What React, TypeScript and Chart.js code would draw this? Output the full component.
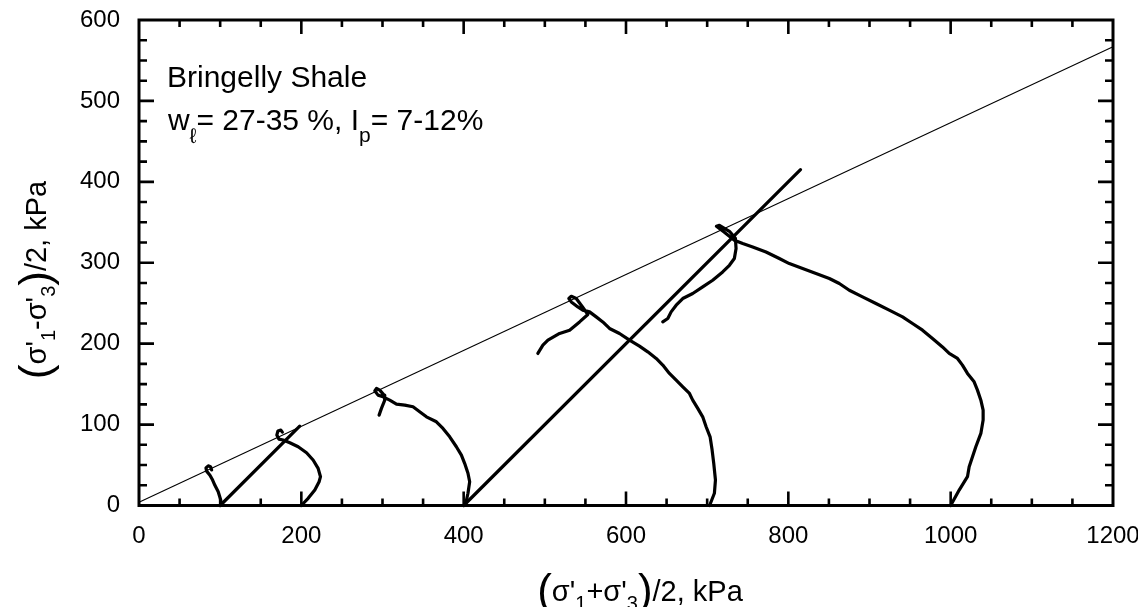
import React, { useEffect, useRef } from "react";
import { Chart, registerables } from "chart.js";

Chart.register(...registerables);

const FONT = "'Liberation Sans', Arial, 'DejaVu Sans', sans-serif";

// Axis ranges and labelled ticks
const xTickValues = [0, 200, 400, 600, 800, 1000, 1200];
const yTickValues = [0, 100, 200, 300, 400, 500, 600];
const X_MINOR = 50;
const Y_MINOR = 25;

// Failure envelope (thin line)
const envelopeP = [0, 1200];
const envelopeQ = [4, 567];

// Total stress paths (45 degree lines)
const totalLowP = [100, 198];
const totalLowQ = [0, 98];
const totalHighP = [400, 815];
const totalHighQ = [0, 415];

// Effective stress paths, p' = (s'1+s'3)/2, q = (s'1-s'3)/2
const path100P = [102, 100.6, 97.6, 93.5, 90.7, 87.4, 83.3, 82.5, 85.3, 88.2, 89.5];
const path100Q = [0, 7, 17, 25, 31.5, 37.5, 42.5, 46.5, 49, 48, 44];

const path200P = [200, 208.4, 216.6, 221.9, 223.6, 220.7, 214.5, 206.4, 196.1, 185.8, 177.6, 172.3, 169.8, 171.1, 174.8, 176.6];
const path200Q = [0, 8.9, 19.1, 29.4, 35.6, 45.9, 56.2, 65.2, 72.6, 77.5, 80.9, 82.1, 87, 92, 93.2, 90.7];

const path400P = [402, 405.3, 407.4, 405.3, 401.2, 397.2, 391, 382.8, 374.5, 366.4, 354.1, 345.8, 337.6, 327.4, 317.2, 308.9, 300.7, 294.5, 290.5, 292.6, 296.6, 301.9, 302.8, 298.7, 295.8];
const path400Q = [0, 15.1, 29.4, 39.8, 52.1, 62.3, 72.6, 84.9, 95.3, 103.5, 109.6, 115.8, 122, 124.1, 125.3, 130.2, 134.3, 136.4, 141.7, 144.7, 142.6, 136.4, 130.2, 120, 111.7];

const path700P = [703, 708.9, 710.2, 708.1, 706.1, 703.6, 698.7, 694.5, 688.4, 682.2, 678.2, 670, 661.8, 653.5, 645.3, 637.2, 626.8, 616.6, 604.3, 592, 579.7, 571.4, 563.3, 555.1, 546.8, 540.7, 532.6, 529.6, 532.6, 538.7, 546, 553, 542.8, 530.5, 518.2, 503.8, 497.6, 491.4];
const path700Q = [0, 15.1, 31.5, 52.1, 68.5, 84.9, 97.3, 109.6, 120, 130.2, 138.5, 146.7, 154.9, 163.2, 173.5, 181.7, 189.9, 196.9, 204.3, 212.6, 218.8, 226.9, 233.1, 239.3, 241.4, 245.4, 251.6, 255.8, 258.6, 255.8, 246, 236, 226.9, 216.7, 212.6, 204.3, 198.1, 187.9];

const path1000P = [1000, 1010.5, 1020.7, 1022.8, 1031, 1037.2, 1040, 1040, 1037.2, 1033, 1028.9, 1020.7, 1014.5, 1008.4, 998.2, 989.9, 977.6, 965.3, 953, 940.7, 924.3, 907.9, 891.4, 875.1, 862.8, 850.5, 834.1, 817.6, 801.2, 788.9, 772.5, 756.1, 743.8, 733.5, 721.2, 711.4, 715.1, 727.4, 734.8, 735.6, 733.5, 727.4, 719.1, 706.8, 694.5, 682.2, 669.9, 661.8, 655.6, 651.5, 645.3];
const path1000Q = [0, 19.1, 35.6, 47.9, 72.6, 89.1, 105.6, 117.9, 130.2, 142.6, 152.8, 163.2, 173.5, 181.7, 187.9, 196, 206.4, 216.7, 224.9, 233.1, 241.4, 249.6, 257.8, 266, 274.3, 280.5, 286.7, 292.8, 299, 305.2, 313.3, 319.5, 323.7, 327.8, 337.7, 345.1, 346.3, 338.9, 330.2, 317.5, 305.2, 296.9, 288.6, 278.4, 270.1, 262, 255.8, 247.5, 239.3, 231.1, 226.9];

const toPoints = (p: number[], q: number[]) => p.map((v, i) => ({ x: v, y: q[i] }));

const thickLine = (p: number[], q: number[]) => ({
  data: toPoints(p, q),
  showLine: true,
  borderColor: "#000",
  backgroundColor: "#000",
  borderWidth: 3.2,
  pointRadius: 0,
  borderCapStyle: "round" as const,
  borderJoinStyle: "round" as const,
  tension: 0,
  clip: false as const,
});

type Run = { t: string; size: number; dy: number };

function runsWidth(ctx: CanvasRenderingContext2D, runs: Run[]) {
  let w = 0;
  for (const r of runs) {
    ctx.font = `${r.size}px ${FONT}`;
    w += ctx.measureText(r.t).width;
  }
  return w;
}

function drawRuns(ctx: CanvasRenderingContext2D, runs: Run[], x: number, y: number) {
  let cx = x;
  ctx.textBaseline = "alphabetic";
  ctx.textAlign = "left";
  for (const r of runs) {
    ctx.font = `${r.size}px ${FONT}`;
    ctx.fillText(r.t, cx, y + r.dy);
    cx += ctx.measureText(r.t).width;
  }
}

const xTitle: Run[] = [
  { t: "(", size: 44, dy: 4 },
  { t: "σ'", size: 29, dy: 0 },
  { t: "1", size: 20, dy: 9 },
  { t: "+σ'", size: 29, dy: 0 },
  { t: "3", size: 20, dy: 9 },
  { t: ")", size: 44, dy: 4 },
  { t: "/2, kPa", size: 29, dy: 0 },
];

const yTitle: Run[] = [
  { t: "(", size: 44, dy: 4 },
  { t: "σ'", size: 29, dy: 0 },
  { t: "1", size: 20, dy: 9 },
  { t: "-σ'", size: 29, dy: 0 },
  { t: "3", size: 20, dy: 9 },
  { t: ")", size: 44, dy: 4 },
  { t: "/2, kPa", size: 29, dy: 0 },
];

const noteLine2: Run[] = [
  { t: "w", size: 30, dy: 0 },
  { t: "ℓ", size: 21, dy: 13 },
  { t: "= 27-35 %, I", size: 30, dy: 0 },
  { t: "p", size: 21, dy: 12 },
  { t: "= 7-12%", size: 30, dy: 0 },
];

const framePlugin = {
  id: "frameAndText",
  afterDraw(chart: any) {
    const { ctx, chartArea: a, scales } = chart;
    const x = scales.x;
    const y = scales.y;
    ctx.save();
    ctx.strokeStyle = "#000";
    ctx.fillStyle = "#000";
    ctx.lineWidth = 3;
    ctx.strokeRect(a.left, a.top, a.right - a.left, a.bottom - a.top);

    ctx.lineWidth = 2.6;
    ctx.beginPath();
    for (let v = x.min + X_MINOR; v < x.max; v += X_MINOR) {
      const px = x.getPixelForValue(v);
      const len = xTickValues.includes(v) ? 14 : 7;
      ctx.moveTo(px, a.bottom);
      ctx.lineTo(px, a.bottom - len);
      ctx.moveTo(px, a.top);
      ctx.lineTo(px, a.top + len);
    }
    for (let v = y.min + Y_MINOR; v < y.max; v += Y_MINOR) {
      const py = y.getPixelForValue(v);
      const len = yTickValues.includes(v) ? 15 : 8;
      ctx.moveTo(a.left, py);
      ctx.lineTo(a.left + len, py);
      ctx.moveTo(a.right, py);
      ctx.lineTo(a.right - len, py);
    }
    ctx.stroke();

    // annotation
    ctx.font = `30px ${FONT}`;
    ctx.textBaseline = "alphabetic";
    ctx.fillText("Bringelly Shale", 159, 79);
    drawRuns(ctx, noteLine2, 160, 122);

    // x axis title
    const xw = runsWidth(ctx, xTitle);
    drawRuns(ctx, xTitle, 632 - xw / 2, 593);

    // y axis title
    const yw = runsWidth(ctx, yTitle);
    ctx.translate(38, 272);
    ctx.rotate(-Math.PI / 2);
    drawRuns(ctx, yTitle, -yw / 2, 0);
    ctx.restore();
  },
};

export default function App() {
  const ref = useRef<HTMLCanvasElement>(null);

  useEffect(() => {
    const canvas = ref.current;
    if (!canvas) return;
    const chart = new Chart(canvas, {
      type: "scatter",
      data: {
        datasets: [
          {
            data: toPoints(envelopeP, envelopeQ),
            showLine: true,
            borderColor: "#000",
            borderWidth: 1.1,
            pointRadius: 0,
            clip: false,
          } as any,
          thickLine(totalLowP, totalLowQ),
          thickLine(totalHighP, totalHighQ),
          thickLine(path100P, path100Q),
          thickLine(path200P, path200Q),
          thickLine(path400P, path400Q),
          thickLine(path700P, path700Q),
          thickLine(path1000P, path1000Q),
        ],
      },
      options: {
        responsive: false,
        animation: false,
        devicePixelRatio: 1,
        layout: { padding: { top: 12, right: 25, left: 0, bottom: 0 } },
        plugins: { legend: { display: false }, tooltip: { enabled: false } },
        scales: {
          x: {
            type: "linear",
            min: 0,
            max: 1200,
            grid: { display: false, drawTicks: false },
            border: { display: false },
            afterBuildTicks: (s: any) => {
              s.ticks = xTickValues.map((v) => ({ value: v }));
            },
            afterFit: (s: any) => {
              s.height = 101.5;
              s.paddingLeft = 0;
              s.paddingRight = 0;
            },
            ticks: {
              color: "#000",
              padding: 19,
              maxRotation: 0,
              autoSkip: false,
              font: { family: FONT, size: 24, lineHeight: 1 },
              callback: (v: any) => String(v),
            },
          },
          y: {
            type: "linear",
            min: 0,
            max: 600,
            grid: { display: false, drawTicks: false },
            border: { display: false },
            afterBuildTicks: (s: any) => {
              s.ticks = yTickValues.map((v) => ({ value: v }));
            },
            afterFit: (s: any) => {
              s.width = 131;
              s.paddingTop = 0;
              s.paddingBottom = 0;
            },
            ticks: {
              color: "#000",
              padding: 19,
              autoSkip: false,
              font: { family: FONT, size: 24, lineHeight: 1 },
              callback: (v: any) => String(v),
            },
          },
        },
      },
      plugins: [framePlugin],
    });
    return () => chart.destroy();
  }, []);

  return (
    <div style={{ width: 1130, height: 599 }}>
      <canvas ref={ref} width={1130} height={599} style={{ display: "block" }} />
    </div>
  );
}
